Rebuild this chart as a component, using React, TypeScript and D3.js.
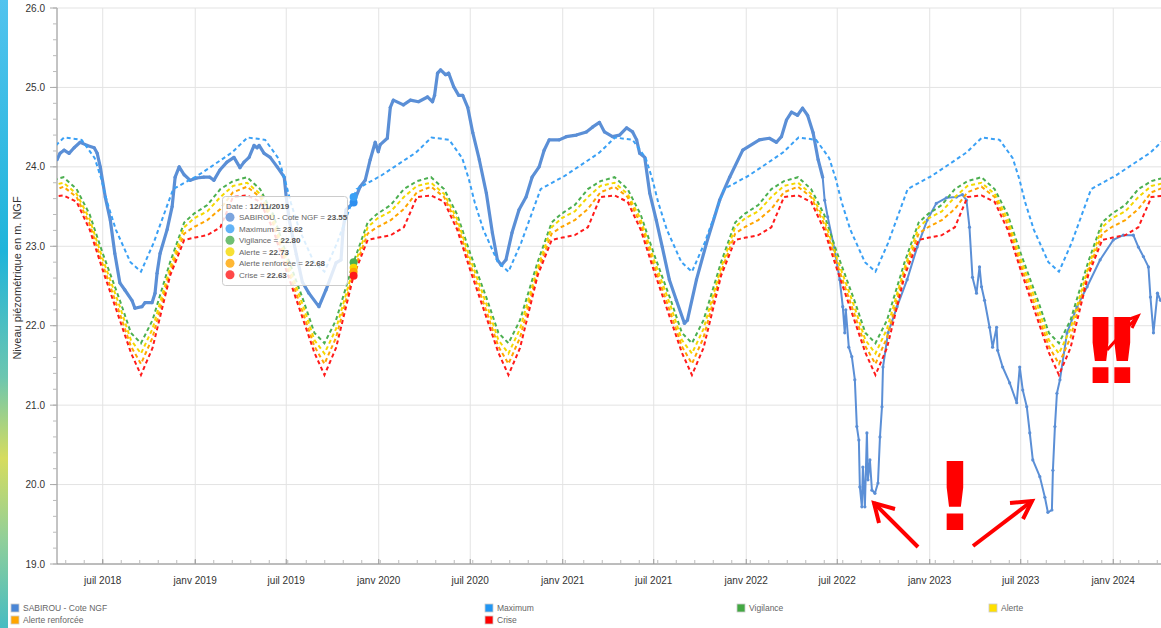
import React from 'react';
import * as d3 from 'd3';

// SABIROU - Cote NGF
const seriesDates = [
  '2018-04-01','2018-04-07','2018-04-15','2018-04-25','2018-05-05','2018-05-17','2018-05-31','2018-06-14','2018-06-20','2018-06-26',
  '2018-07-06','2018-07-16','2018-07-25','2018-08-04','2018-08-14','2018-08-28','2018-09-03','2018-09-17','2018-09-23','2018-10-07',
  '2018-10-13','2018-10-17','2018-10-23','2018-11-06','2018-11-16','2018-11-22','2018-11-30','2018-12-10','2018-12-22','2019-01-04',
  '2019-01-18','2019-01-30','2019-02-07','2019-02-19','2019-03-05','2019-03-19','2019-03-31','2019-04-08','2019-04-18','2019-04-28',
  '2019-05-04','2019-05-08','2019-05-18','2019-05-30','2019-06-13','2019-06-27','2019-07-01','2019-07-07','2019-07-21','2019-08-02',
  '2019-08-15','2019-09-04','2019-09-18','2019-10-08','2019-10-18','2019-10-22','2019-10-28','2019-11-12','2019-11-25','2019-12-05',
  '2019-12-15','2019-12-25','2019-12-31','2020-01-04','2020-01-18','2020-01-24','2020-01-30','2020-02-19','2020-03-04','2020-03-20',
  '2020-04-07','2020-04-17','2020-04-21','2020-04-27','2020-05-03','2020-05-13','2020-05-19','2020-05-29','2020-06-08','2020-06-16',
  '2020-06-26','2020-07-06','2020-07-19','2020-08-02','2020-08-14','2020-08-24','2020-09-01','2020-09-10','2020-09-22','2020-10-06',
  '2020-10-20','2020-11-01','2020-11-15','2020-11-25','2020-12-05','2020-12-25','2021-01-08','2021-01-28','2021-02-17','2021-03-01',
  '2021-03-15','2021-03-25','2021-04-10','2021-04-24','2021-05-08','2021-05-20','2021-05-28','2021-06-03','2021-06-13','2021-06-23',
  '2021-07-06','2021-07-18','2021-08-01','2021-08-15','2021-08-31','2021-09-06','2021-09-24','2021-10-14','2021-11-09','2021-11-29',
  '2021-12-25','2022-01-27','2022-02-16','2022-03-02','2022-03-12','2022-03-22','2022-04-01','2022-04-13','2022-04-23','2022-05-03',
  '2022-05-14','2022-05-24','2022-06-02','2022-06-06','2022-06-12','2022-06-26','2022-07-06','2022-07-12','2022-07-16','2022-07-18',
  '2022-07-24','2022-07-30','2022-08-05','2022-08-09','2022-08-13','2022-08-15','2022-08-19','2022-08-21','2022-08-25','2022-08-29',
  '2022-08-31','2022-09-04','2022-09-08','2022-09-14','2022-09-20','2022-09-24','2022-09-28','2022-09-30','2022-10-10','2022-10-28',
  '2022-11-17','2022-12-07','2022-12-27','2023-01-14','2023-02-03','2023-02-23','2023-03-07','2023-03-15','2023-03-21','2023-03-27',
  '2023-04-04','2023-04-10','2023-04-14','2023-04-20','2023-04-30','2023-05-06','2023-05-14','2023-05-16','2023-05-26','2023-06-09',
  '2023-06-23','2023-06-29','2023-07-05','2023-07-13','2023-07-19','2023-07-25','2023-08-08','2023-08-18','2023-08-24','2023-09-01',
  '2023-09-03','2023-09-07','2023-09-11','2023-09-17','2023-10-01','2023-10-21','2023-11-10','2023-12-06','2024-01-01','2024-01-21',
  '2024-02-10','2024-02-20','2024-03-01','2024-03-11','2024-03-15','2024-03-21','2024-03-29','2024-04-04'
];
const seriesValues = [
  24.09,24.17,24.21,24.17,24.24,24.31,24.27,24.24,24.17,24.00,
  23.62,23.33,22.91,22.54,22.45,22.32,22.22,22.24,22.29,22.29,
  22.41,22.66,22.91,23.21,23.50,23.87,24.00,23.90,23.83,23.86,
  23.87,23.87,23.83,23.96,24.06,24.12,23.99,24.06,24.12,24.27,
  24.24,24.27,24.17,24.12,24.00,23.87,23.62,23.33,22.90,22.55,
  22.41,22.24,22.45,22.79,22.83,23.21,23.46,23.55,23.75,23.83,
  24.09,24.31,24.19,24.28,24.36,24.75,24.84,24.78,24.84,24.82,
  24.88,24.82,24.90,25.18,25.22,25.16,25.18,25.01,24.90,24.90,
  24.75,24.43,24.09,23.67,23.17,22.83,22.76,22.83,23.17,23.46,
  23.62,23.87,24.00,24.21,24.34,24.34,24.38,24.40,24.44,24.50,
  24.56,24.44,24.38,24.40,24.49,24.44,24.34,24.17,24.12,23.67,
  23.33,22.99,22.58,22.32,22.03,22.07,22.58,23.04,23.58,23.87,
  24.21,24.34,24.36,24.31,24.38,24.59,24.69,24.65,24.74,24.65,
  24.43,24.09,23.87,23.58,23.37,22.95,22.58,22.24,21.91,22.20,
  21.73,21.61,21.32,20.73,20.56,19.97,19.72,20.22,19.72,20.65,
  20.06,20.31,19.93,19.89,20.02,20.60,20.98,21.48,21.91,22.24,
  22.58,22.99,23.33,23.54,23.61,23.62,23.65,23.58,23.24,22.61,
  22.41,22.74,22.49,22.32,21.98,21.73,21.98,21.69,21.48,21.28,
  21.03,21.48,21.19,20.98,20.65,20.31,20.10,19.84,19.65,19.68,
  20.18,20.73,21.15,21.32,21.91,22.24,22.49,22.83,23.08,23.14,
  23.14,22.99,22.87,22.74,22.36,21.91,22.41,22.32
];

// yearly threshold profiles (month-day -> level)
const maximumDays = ['01-01','02-01','03-15','04-15','05-20','06-15','06-28','07-10','07-27','08-25','09-15','10-10','11-18','12-31'];
const maximumValues = [23.87,24.00,24.18,24.37,24.34,24.11,23.85,23.55,23.21,22.80,22.68,23.04,23.72,23.87];

const thresholdDays = ['01-01','01-25','02-20','03-17','04-14','05-10','06-05','07-01','08-04','08-26','09-15','10-08','11-12','12-10','12-31'];
const vigilanceValues = [23.42,23.52,23.72,23.82,23.87,23.72,23.40,22.91,22.32,21.91,21.78,22.07,22.80,23.30,23.42];
const alerteValues = [23.36,23.44,23.62,23.76,23.80,23.66,23.34,22.84,22.24,21.82,21.65,21.96,22.73,23.24,23.36];
const renforceeValues = [23.25,23.33,23.47,23.68,23.75,23.62,23.28,22.77,22.15,21.74,21.52,21.85,22.68,23.16,23.25];
const criseValues = [23.11,23.14,23.24,23.62,23.64,23.56,23.21,22.70,22.07,21.66,21.38,21.72,22.63,23.08,23.11];

const seriesNames = ['SABIROU - Cote NGF', 'Maximum', 'Vigilance', 'Alerte', 'Alerte renforcée', 'Crise'];
const lineColors = ['#5b8fd6', '#3aa0f5', '#4caf50', '#f5d800', '#ffa500', '#ff1a1a'];
const swatchColors = ['#4a86d6', '#2196f3', '#43a843', '#ffe000', '#ffa500', '#ff0000'];

const tooltipLabel = '12/11/2019';
const tooltipDay = '2019-11-12';
const tooltipValues = [23.55, 23.62, 22.80, 22.73, 22.68, 22.63];

const yTicks = [19, 20, 21, 22, 23, 24, 25, 26];
const monthLabels = { 0: 'janv', 6: 'juil' };

const parse = d3.timeParse('%Y-%m-%d');

function yearly(days, values) {
  const pts = [];
  for (let yr = 2017; yr <= 2024; yr++) {
    days.forEach((d, i) => pts.push({ date: parse(`${yr}-${d}`), value: values[i] }));
  }
  return pts;
}

export default function App() {
  const width = 1161, height = 628;
  const left = 57, top = 8, bottom = 564, right = 1161;

  const x = d3.scaleTime().domain([new Date(2018, 3, 1), new Date(2024, 3, 5)]).range([left, right]);
  const y = d3.scaleLinear().domain([19, 26]).range([bottom, top]);

  const line = d3.line().x(d => x(d.date)).y(d => y(d.value));

  const sabirou = seriesDates.map((d, i) => ({ date: parse(d), value: seriesValues[i] }));
  // the record gets sparser (thinner trace) after spring 2022
  const split = sabirou.findIndex(d => d.date >= parse('2022-06-02'));
  const thresholds = [
    yearly(maximumDays, maximumValues),
    yearly(thresholdDays, vigilanceValues),
    yearly(thresholdDays, alerteValues),
    yearly(thresholdDays, renforceeValues),
    yearly(thresholdDays, criseValues),
  ];

  const majorTicks = x.ticks(d3.timeMonth.every(6));
  const minorTicks = [];
  const step = (+majorTicks[1] - +majorTicks[0]) / 5;
  for (let t = +majorTicks[0] - step * 5; t < +x.domain()[1]; t += step) {
    if (t >= +x.domain()[0]) minorTicks.push(new Date(t));
  }
  const yMinor = d3.range(19, 26.001, 0.2);

  const tipX = x(parse(tooltipDay));

  const legendCols = [11, 485, 737, 989];
  const legendItems = seriesNames.map((name, i) => ({
    name, color: swatchColors[i],
    lx: legendCols[i < 4 ? i : i - 4],
    ly: i < 4 ? 604 : 616,
  }));

  return (
    <svg width={width} height={height} style={{ position: 'absolute', left: 0, top: 0, fontFamily: 'Liberation Sans, Arial, sans-serif' }}>
      <defs>
        <linearGradient id="sidebar" x1="0" y1="0" x2="0" y2="1">
          <stop offset="0" stopColor="#52c3ee" />
          <stop offset="0.4" stopColor="#1fb4da" />
          <stop offset="0.6" stopColor="#6cc6b0" />
          <stop offset="0.73" stopColor="#d6dc5e" />
          <stop offset="0.86" stopColor="#90cf9a" />
          <stop offset="1" stopColor="#45bcc2" />
        </linearGradient>
        <clipPath id="plot">
          <rect x={left} y={top} width={right - left} height={bottom - top} />
        </clipPath>
      </defs>
      <rect x={0} y={0} width={width} height={height} fill="#fff" />
      <rect x={0} y={0} width={8} height={height} fill="url(#sidebar)" />

      {/* grid */}
      {yTicks.map(t => (
        <line key={'gy' + t} x1={left} x2={right} y1={y(t)} y2={y(t)} stroke="#e3e3e3" strokeWidth={1} />
      ))}
      {majorTicks.map(t => (
        <line key={'gx' + +t} x1={x(t)} x2={x(t)} y1={top} y2={bottom} stroke="#e3e3e3" strokeWidth={1} />
      ))}

      {/* axes */}
      <line x1={left} x2={left} y1={top} y2={bottom} stroke="#888" />
      <line x1={left} x2={right} y1={bottom} y2={bottom} stroke="#888" />
      {yMinor.map(t => (
        <line key={'ym' + t} x1={left - 4} x2={left} y1={y(t)} y2={y(t)} stroke="#bbb" />
      ))}
      {yTicks.map(t => (
        <g key={'yt' + t}>
          <line x1={left - 7} x2={left} y1={y(t)} y2={y(t)} stroke="#aaa" />
          <text x={45} y={y(t) + 3.5} textAnchor="end" fontSize={10} fill="#333">{t.toFixed(1)}</text>
        </g>
      ))}
      {minorTicks.map(t => (
        <line key={'xm' + +t} x1={x(t)} x2={x(t)} y1={bottom - 4} y2={bottom} stroke="#bbb" />
      ))}
      {majorTicks.map(t => (
        <g key={'xt' + +t}>
          <line x1={x(t)} x2={x(t)} y1={bottom - 5} y2={bottom} stroke="#999" />
          <text x={x(t)} y={584} textAnchor="middle" fontSize={10} fill="#333">
            {monthLabels[t.getMonth()] + ' ' + t.getFullYear()}
          </text>
        </g>
      ))}
      <text transform="translate(21,278) rotate(-90)" textAnchor="middle" fontSize={11} fill="#333">
        Niveau piézométrique en m. NGF
      </text>

      {/* series */}
      <g clipPath="url(#plot)">
        <path d={line(sabirou.slice(0, split + 1))} fill="none" stroke={lineColors[0]} strokeWidth={3.2} strokeLinejoin="round" />
        <path d={line(sabirou.slice(split))} fill="none" stroke={lineColors[0]} strokeWidth={2} strokeLinejoin="round" />
        {sabirou.map((d, i) => (
          <circle key={'p' + i} cx={x(d.date)} cy={y(d.value)} r={1.6} fill={lineColors[0]} />
        ))}
        {thresholds.map((pts, i) => (
          <path key={'th' + i} d={line(pts)} fill="none" stroke={lineColors[i + 1]} strokeWidth={2} strokeDasharray="4,3" />
        ))}
      </g>

      {/* hover markers */}
      {tooltipValues.map((v, i) => (
        <circle key={'hm' + i} cx={tipX} cy={y(v)} r={4} fill={i === 0 ? '#2f8fef' : lineColors[i]} />
      ))}

      {/* tooltip */}
      <g transform="translate(222,196)">
        <rect x={0.5} y={0.5} width={125} height={89} rx={3} fill="rgba(255,255,255,0.82)" stroke="#ccc" />
        <text x={4} y={13} fontSize={8} fill="#666">
          Date : <tspan fontWeight="bold" fill="#555">{tooltipLabel}</tspan>
        </text>
        {seriesNames.map((name, i) => (
          <g key={'tt' + i} transform={`translate(0,${21.3 + i * 11.5})`}>
            <circle cx={8} cy={0} r={4.5} fill={lineColors[i]} opacity={0.8} />
            <text x={17} y={3} fontSize={8} fill="#666">
              {name} = <tspan fontWeight="bold" fill="#555">{tooltipValues[i].toFixed(2)}</tspan>
            </text>
          </g>
        ))}
      </g>

      {/* annotations */}
      <g fill="#ff0000" stroke="#ff0000">
        <text x={955} y={530} textAnchor="middle" fontSize={94} fontWeight="bold" stroke="none" fontFamily="DejaVu Sans">!</text>
        <text x={1080} y={383} fontSize={90} fontWeight="bold" stroke="none" fontFamily="DejaVu Sans" letterSpacing={-19.4}>!!</text>
        <polyline points="918,547 874,503" strokeWidth={4} fill="none" />
        <polyline points="895,509 874,503 879,523" strokeWidth={4} fill="none" />
        <polyline points="973,546 1032,501" strokeWidth={4} fill="none" />
        <polyline points="1010,503 1032,501 1023,519" strokeWidth={4} fill="none" />
        <polyline points="1107,350 1138,316" strokeWidth={3} fill="none" />
        <polyline points="1127,320 1138,316 1132,328" strokeWidth={3} fill="none" />
      </g>

      {/* legend */}
      {legendItems.map(it => (
        <g key={it.name}>
          <rect x={it.lx} y={it.ly} width={8} height={8} fill={it.color} stroke="#ccc" strokeWidth={0.8} />
          <text x={it.lx + 12} y={it.ly + 7} fontSize={8.5} fill="#666">{it.name}</text>
        </g>
      ))}
    </svg>
  );
}
